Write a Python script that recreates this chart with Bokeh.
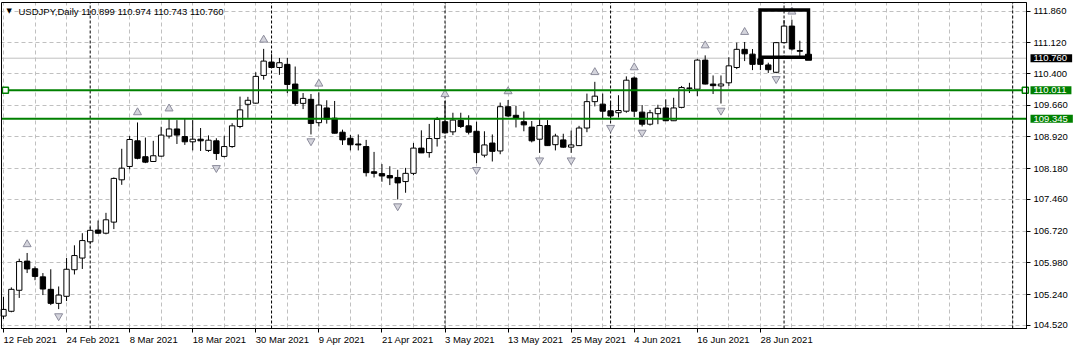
from bokeh.plotting import figure
from bokeh.models import ColumnDataSource, FixedTicker, NumeralTickFormatter, Label
from bokeh.embed import file_html
from bokeh.resources import INLINE

# ---------------- data ----------------
symbol = "USDJPY,Daily"
last_ohlc = ["110.899", "110.974", "110.743", "110.760"]

date_labels = ["12 Feb 2021", "24 Feb 2021", "8 Mar 2021", "18 Mar 2021", "30 Mar 2021",
               "9 Apr 2021", "21 Apr 2021", "3 May 2021", "13 May 2021", "25 May 2021",
               "4 Jun 2021", "16 Jun 2021", "28 Jun 2021"]
date_label_bars = [0, 8, 16, 24, 32, 40, 48, 56, 64, 72, 80, 88, 96]

opens = [104.736, 104.848, 105.339, 106.020, 105.842, 105.652, 105.361, 105.033, 105.198, 105.819,
         106.092, 106.471, 106.746, 106.672, 106.931, 107.919, 108.231, 108.830, 108.459, 108.347,
         108.472, 108.941, 109.107, 108.930, 108.807, 108.868, 108.606, 108.830, 108.466, 108.696,
         109.165, 109.683, 109.710, 110.357, 110.670, 110.543, 110.616, 110.156, 109.705, 109.799,
         109.254, 109.598, 109.359, 109.031, 108.890, 108.756, 108.696, 108.108, 108.064, 108.019,
         107.974, 107.878, 108.070, 108.660, 108.555, 108.883, 109.276, 109.040, 109.308, 109.180,
         109.053, 108.495, 108.778, 108.593, 109.627, 109.426, 109.276, 109.151, 108.868, 109.187,
         108.740, 108.852, 108.682, 108.718, 109.129, 109.745, 109.687, 109.531, 109.486, 109.522,
         110.297, 109.500, 109.218, 109.464, 109.598, 109.299, 109.611, 110.063, 110.036, 110.715,
         110.156, 110.112, 110.185, 110.543, 110.967, 110.855, 110.744, 110.603, 110.431, 111.123,
         111.510, 110.938]
highs = [105.183, 105.406, 106.076, 106.210, 105.897, 105.741, 105.830, 105.428, 106.092, 106.389,
         106.672, 106.813, 106.969, 107.148, 107.974, 108.644, 108.941, 109.259, 108.906, 108.830,
         109.158, 109.352, 109.314, 109.352, 109.314, 109.129, 108.957, 108.890, 108.946, 109.241,
         109.862, 109.857, 110.431, 110.978, 110.855, 110.766, 110.766, 110.565, 109.946, 109.924,
         109.962, 109.777, 109.761, 109.091, 108.968, 108.979, 108.852, 108.571, 108.287, 108.236,
         108.153, 108.198, 108.778, 109.075, 109.225, 109.388, 109.761, 109.486, 109.486, 109.426,
         109.276, 109.053, 108.979, 109.723, 109.783, 109.649, 109.515, 109.292, 109.352, 109.314,
         108.995, 108.995, 109.069, 109.180, 109.933, 110.208, 109.933, 109.761, 109.895, 110.335,
         110.335, 109.665, 109.553, 109.672, 109.799, 109.835, 110.112, 110.185, 110.744, 110.826,
         110.357, 110.357, 110.782, 111.123, 111.139, 110.974, 110.826, 110.654, 111.139, 111.650,
         111.659, 111.168]
lows = [104.669, 104.825, 105.160, 105.741, 105.574, 105.227, 104.993, 104.899, 105.087, 105.708,
        105.837, 106.411, 106.657, 106.646, 106.768, 107.802, 108.164, 108.399, 108.309, 108.343,
        108.455, 108.883, 108.756, 108.734, 108.606, 108.593, 108.571, 108.383, 108.443, 108.667,
        109.125, 109.366, 109.694, 110.259, 110.532, 110.371, 109.946, 109.649, 109.571, 108.979,
        109.165, 109.232, 109.002, 108.734, 108.606, 108.606, 107.997, 107.974, 107.874, 107.796,
        107.461, 107.617, 108.026, 108.544, 108.437, 108.696, 109.002, 108.964, 109.129, 108.979,
        108.309, 108.443, 108.347, 108.517, 109.388, 109.142, 109.053, 108.794, 108.548, 108.711,
        108.606, 108.667, 108.548, 108.711, 109.031, 109.634, 109.337, 109.314, 109.375, 109.486,
        109.388, 109.165, 109.187, 109.218, 109.292, 109.292, 109.589, 109.946, 109.873, 110.147,
        109.924, 109.701, 110.112, 110.505, 110.692, 110.482, 110.482, 110.415, 110.409, 111.110,
        110.938, 110.811]
closes = [104.892, 105.361, 106.009, 105.837, 105.663, 105.368, 105.033, 105.227, 105.830, 106.150,
          106.500, 106.739, 106.672, 106.985, 107.952, 108.191, 108.861, 108.421, 108.332, 108.481,
          108.964, 109.107, 108.964, 108.807, 108.868, 108.830, 108.845, 108.533, 108.696, 109.180,
          109.553, 109.777, 110.335, 110.692, 110.543, 110.654, 110.147, 109.701, 109.821, 109.236,
          109.665, 109.337, 109.008, 108.852, 108.738, 108.734, 108.086, 108.070, 108.008, 107.963,
          107.847, 108.070, 108.660, 108.548, 108.883, 109.330, 109.017, 109.314, 109.165, 109.031,
          108.555, 108.734, 108.584, 109.627, 109.410, 109.352, 109.203, 108.830, 109.187, 108.718,
          108.941, 108.682, 108.734, 109.129, 109.745, 109.873, 109.522, 109.410, 109.538, 110.246,
          109.522, 109.218, 109.486, 109.589, 109.299, 109.598, 110.074, 110.056, 110.715, 110.156,
          110.118, 110.156, 110.581, 110.967, 110.862, 110.616, 110.616, 110.491, 111.123, 111.510,
          110.974, 110.922]

up_fractal_bars = [3, 17, 21, 33, 40, 56, 64, 75, 80, 89, 94, 100]
up_fractal_prices = [106.411, 109.493, 109.582, 111.190, 110.163, 109.917, 109.984, 110.431,
                     110.543, 111.056, 111.369, 111.845]
down_fractal_bars = [7, 27, 39, 50, 60, 68, 72, 77, 81, 91, 98]
down_fractal_prices = [104.736, 108.198, 108.823, 107.304, 108.153, 108.376, 108.376, 109.136,
                       109.024, 109.538, 110.275]

support_levels = [110.011, 109.345]
bid_price = 110.760
price_ticks = [104.52, 105.24, 105.98, 106.72, 107.46, 108.18, 108.92, 109.66, 110.40, 111.12, 111.86]
separator_bars = [11, 34, 56, 77, 99, 128]
box_bars = [95.95, 102.1]
box_prices = [111.883, 110.782]

# chart window (bars / prices shown inside the black border)
x_lo, x_hi = -0.25, 129.75
y_lo, y_hi = 104.446, 112.061

# ---------------- layout constants (pixels) ----------------
W, H = 1073, 348
PAD_L, PAD_R, PAD_T, PAD_B = 1, 47, 2, 20
ppx_x = (x_hi - x_lo) / (W - PAD_L - PAD_R)     # bars per pixel
ppx_y = (y_hi - y_lo) / (H - PAD_T - PAD_B)     # price per pixel
X0, X1 = x_lo - PAD_L * ppx_x, x_hi + PAD_R * ppx_x
Y0, Y1 = y_lo - PAD_B * ppx_y, y_hi + PAD_T * ppx_y

FONT = "Liberation Sans"
FS = "9.5px"

p = figure(width=W, height=H, output_backend="svg", toolbar_location=None,
           x_range=(X0, X1), y_range=(Y0, Y1), y_axis_location="right",
           min_border_left=0, min_border_top=0, min_border_bottom=0, min_border_right=0)
p.background_fill_color = "white"
p.border_fill_color = "white"
p.outline_line_color = None

# ---- axes fixed on the chart border ----
ya = p.yaxis[0]
ya.fixed_location = x_hi
ya.bounds = (y_lo, y_hi)
ya.ticker = FixedTicker(ticks=price_ticks)
ya.formatter = NumeralTickFormatter(format="0.000")
ya.major_label_text_font = FONT
ya.major_label_text_font_size = FS
ya.major_label_text_color = "black"
ya.major_tick_in = 0
ya.major_tick_out = 4
ya.minor_tick_in = 0
ya.minor_tick_out = 0
ya.major_label_standoff = 3
ya.axis_line_color = "black"

xa = p.xaxis[0]
xa.fixed_location = y_lo
xa.bounds = (x_lo, x_hi)
xa.ticker = FixedTicker(ticks=date_label_bars)
xa.major_label_text_alpha = 0
xa.major_label_text_font_size = "1px"
xa.major_tick_in = 0
xa.major_tick_out = 4
xa.minor_tick_in = 0
xa.minor_tick_out = 0
xa.axis_line_color = "black"

# ---- grid ----
p.ygrid.ticker = FixedTicker(ticks=price_ticks)
p.xgrid.ticker = FixedTicker(ticks=list(range(0, 130, 4)))
for g in (p.xgrid, p.ygrid):
    g.grid_line_color = "#c0c0c0"
    g.grid_line_dash = "4 3"
    g.grid_line_width = 1

# white margins outside the chart border (hide grid there)
p.quad(left=[x_hi, X0, X0, X0], right=[X1, X1, x_lo, X1],
       bottom=[Y0, Y0, Y0, y_hi], top=[Y1, y_lo, Y1, Y1],
       fill_color="white", line_color=None)

# ---- period separators ----
p.segment(x0=separator_bars, y0=[y_lo] * len(separator_bars), x1=separator_bars,
          y1=[y_hi] * len(separator_bars), line_color="black", line_dash="3 2", line_width=1)

# ---- bid line ----
p.segment(x0=[x_lo], y0=[bid_price], x1=[x_hi], y1=[bid_price], line_color="#c0c0c0", line_width=1)

# ---- candles ----
idx = list(range(len(opens)))
src = ColumnDataSource(dict(
    x=idx, o=opens, h=highs, l=lows, c=closes,
    top=[max(o, c) for o, c in zip(opens, closes)],
    bottom=[min(o, c) for o, c in zip(opens, closes)],
    fill=["white" if c >= o else "black" for o, c in zip(opens, closes)],
))
p.segment(x0="x", y0="l", x1="x", y1="h", source=src, line_color="black", line_width=1)
p.vbar(x="x", width=0.68, top="top", bottom="bottom", fill_color="fill",
       line_color="black", line_width=1, source=src)

# ---- fractals ----
p.scatter(up_fractal_bars, up_fractal_prices, marker="triangle", size=8,
          fill_color="#d4d4dc", line_color="#8c8c9c", line_width=1)
p.scatter(down_fractal_bars, down_fractal_prices, marker="inverted_triangle", size=8,
          fill_color="#d4d4dc", line_color="#8c8c9c", line_width=1)

# ---- horizontal levels ----
p.segment(x0=[x_lo] * 2, y0=support_levels, x1=[x_hi] * 2, y1=support_levels,
          line_color="#008000", line_width=2)
p.scatter([x_lo + 0.5, x_hi - 0.15], [support_levels[0]] * 2, marker="square", size=6,
          fill_color="white", line_color="#008000", line_width=1.5)

# ---- rectangle object ----
p.quad(left=[box_bars[0]], right=[box_bars[1]], top=[box_prices[0]], bottom=[box_prices[1]],
       fill_alpha=0, line_color="black", line_width=3.5, line_join="miter")
p.scatter([box_bars[1]], [box_prices[1]], marker="square", size=6, fill_color="black",
          line_color="black")

# ---- chart border ----
p.quad(left=[x_lo], right=[x_hi], bottom=[y_lo], top=[y_hi], fill_alpha=0,
       line_color="black", line_width=1)

# ---- highlighted prices on the price scale ----
for lv, bg in [(bid_price, "black"), (support_levels[0], "#008000"), (support_levels[1], "#008000")]:
    p.add_layout(Label(x=x_hi, y=lv, x_offset=4, text=f"{lv:.3f}", text_align="left",
                       text_baseline="middle", text_font=FONT, text_font_size=FS,
                       text_color="white", background_fill_color=bg,
                       padding=dict(left=3, right=5, top=1, bottom=1)))

# ---- date labels, left aligned at their tick ----
for b, t in zip(date_label_bars, date_labels):
    p.add_layout(Label(x=b, y=y_lo, y_offset=-5, text=t, text_align="left",
                       text_baseline="top", text_font=FONT, text_font_size=FS,
                       text_color="black"))

# ---- header ----
p.add_layout(Label(x=x_lo, y=y_hi, x_offset=5, y_offset=-4, text="\u25bc", text_align="left",
                   text_baseline="top", text_font="DejaVu Sans", text_font_size="7px",
                   text_color="black"))
p.add_layout(Label(x=x_lo, y=y_hi, x_offset=17, y_offset=-3,
                   text=symbol + "  " + " ".join(last_ohlc), text_align="left",
                   text_baseline="top", text_font=FONT, text_font_size=FS, text_color="black"))

open("out.html", "w").write(file_html(p, INLINE))
